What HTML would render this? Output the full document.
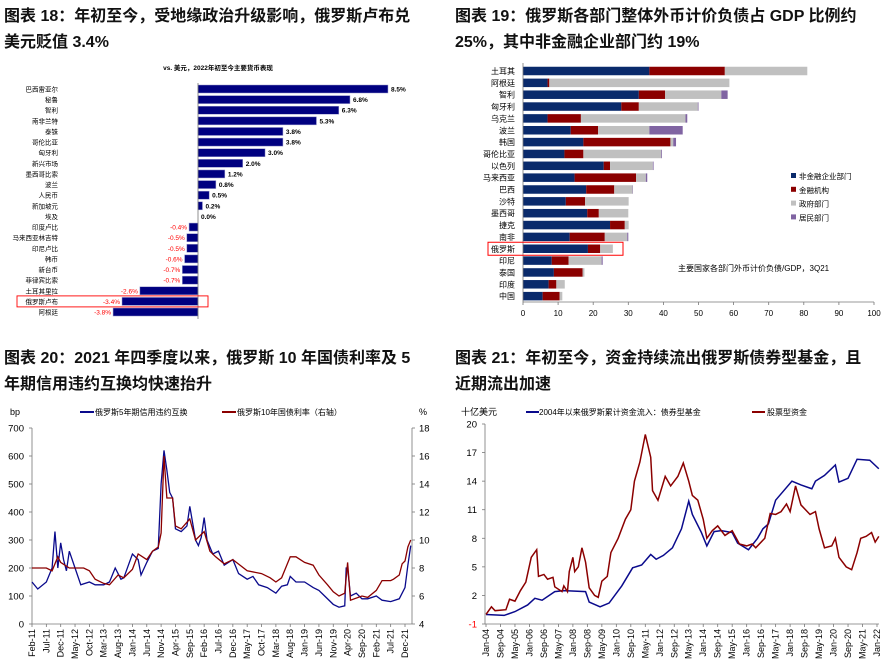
<!DOCTYPE html>
<html><head><meta charset="utf-8">
<style>
html,body{margin:0;padding:0;background:#fff;}
body{width:896px;height:669px;position:relative;overflow:hidden;font-family:"Liberation Sans","Noto Sans CJK SC",sans-serif;}
.t{position:absolute;font-weight:bold;font-size:16px;color:#111;white-space:nowrap;line-height:26px;}
svg{position:absolute;left:0;top:0;}
svg text{font-family:"Liberation Sans","Noto Sans CJK SC",sans-serif;}
</style></head><body>
<div class="t" style="left:4px;top:4px;">图表 18：年初至今，受地缘政治升级影响，俄罗斯卢布兑<br>美元贬值 3.4%</div>
<div class="t" style="left:455px;top:4px;">图表 19：俄罗斯各部门整体外币计价负债占 GDP 比例约<br>25%，其中非金融企业部门约 19%</div>
<div class="t" style="left:4px;top:346px;">图表 20：2021 年四季度以来，俄罗斯 10 年国债利率及 5<br>年期信用违约互换均快速抬升</div>
<div class="t" style="left:455px;top:346px;">图表 21：年初至今，资金持续流出俄罗斯债券型基金，且<br>近期流出加速</div>
<svg id="s" width="896" height="669" xmlns="http://www.w3.org/2000/svg"></svg>
<script>
// ---- Chart 18 data
const curNames=["巴西雷亚尔","秘鲁","智利","南非兰特","泰铢","哥伦比亚","匈牙利","新兴市场","墨西哥比索","波兰","人民币","新加坡元","埃及","印度卢比","马来西亚林吉特","印尼卢比","韩币","新台币","菲律宾比索","土耳其里拉","俄罗斯卢布","阿根廷"];
const curVals=[8.5,6.8,6.3,5.3,3.8,3.8,3.0,2.0,1.2,0.8,0.5,0.2,-0.0,-0.4,-0.5,-0.5,-0.6,-0.7,-0.7,-2.6,-3.4,-3.8];
// ---- Chart 19 data
const ctyNames=["土耳其","阿根廷","智利","匈牙利","乌克兰","波兰","韩国","哥伦比亚","以色列","马来西亚","巴西","沙特","墨西哥","捷克","南非","俄罗斯","印尼","泰国","印度","中国"];
const nonFin=[36,7,33,28,7,13.6,17.2,11.8,23,14.7,18,12.2,18.3,24.8,13.3,18.5,8.2,8.8,7.3,5.6];
const finInst=[21.5,0.5,7.5,5,9.5,7.8,24.8,5.4,1.8,17.5,8,5.5,3.3,4.2,10,3.5,4.8,8.2,2.2,4.8];
const govt=[23.5,51.3,16,16.8,29.8,14.6,0.8,22.2,12.2,2.8,5.2,12.4,8.4,1.1,6.4,3.6,9.4,0.5,2.4,0.8];
const house=[0,0,1.8,0.2,0.5,9.5,0.8,0.2,0.2,0.4,0.1,0,0,0,0.3,0,0.3,0,0,0];
const xTicks19=[0,10,20,30,40,50,60,70,80,90,100];
// ---- Chart 20 data (month index from Feb-11)
const dateLabels20=["Feb-11","Jul-11","Dec-11","May-12","Oct-12","Mar-13","Aug-13","Jan-14","Jun-14","Nov-14","Apr-15","Sep-15","Feb-16","Jul-16","Dec-16","May-17","Oct-17","Mar-18","Aug-18","Jan-19","Jun-19","Nov-19","Apr-20","Sep-20","Feb-21","Jul-21","Dec-21"];
const cdsMonths=[0,2,5,7,8,9,10,11,12,13,15,17,20,22,25,27,29,30,31,32,35,37,38,40,42,44,45,46,47,48,49,50,52,54,55,57,58,59,60,61,63,65,67,70,72,75,77,79,82,85,87,89,90,92,95,98,100,102,105,107,109,109.5,110,111,113,115,117,120,122,125,128,130,131,132];
const cdsVals=[150,125,150,200,330,200,290,230,190,260,200,140,150,140,140,150,200,180,160,165,250,230,175,220,260,270,500,620,550,470,450,340,330,350,420,300,280,310,380,300,250,260,210,230,180,160,170,140,130,110,135,140,170,150,150,130,120,100,70,60,65,200,200,100,110,90,90,100,85,80,90,130,210,280];
const ylMonths=[0,5,7,9,10,13,18,20,22,25,27,30,32,35,37,40,42,44,45,46,47,49,50,52,55,57,60,62,64,67,70,75,80,83,85,87,90,92,95,98,100,103,105,107,109,110,111,115,117,120,122,125,126,128,129,130,131,132];
const ylVals=[8.0,8.0,7.8,8.8,8.4,8.0,8.0,7.8,7.2,6.9,6.8,7.5,7.3,7.9,9.0,8.6,9.2,9.5,10.5,16,13,13,11,10.8,11.5,10,10.6,9.2,8.8,8.3,8.6,7.8,7.6,7.3,7.0,7.3,8.8,8.8,8.4,8.2,7.5,6.8,6.3,6.0,6.2,8.4,5.7,6.0,5.9,6.4,7.1,7.1,7.2,7.5,8.3,8.5,9.5,10];
const leftTicks20=[0,100,200,300,400,500,600,700];
const rightTicks20=[4,6,8,10,12,14,16,18];
// ---- Chart 21 data (month index from Jan-04)
const dateLabels21=["Jan-04","Sep-04","May-05","Jan-06","Sep-06","May-07","Jan-08","Sep-08","May-09","Jan-10","Sep-10","May-11","Jan-12","Sep-12","May-13","Jan-14","Sep-14","May-15","Jan-16","Sep-16","May-17","Jan-18","Sep-18","May-19","Jan-20","Sep-20","May-21","Jan-22"];
const bondMonths=[0,10,16,23,27,31,38,43,55,57,63,68,75,81,86,91,94,98,103,108,112,114,119,122,126,130,136,139,145,150,153,156,160,169,174,180,182,187,193,195,200,205,212,217];
const bondVals=[0,-0.1,0.3,1.0,1.7,1.5,2.4,2.5,2.4,1.3,0.8,1.2,3.0,4.9,5.2,6.3,5.8,6.2,7.0,9.0,11.9,10.5,8.6,7.2,8.7,8.8,8.6,7.5,6.8,8.0,9.0,9.5,12,14,13.6,13.2,14,14.6,15.7,13.9,14.3,16.3,16.2,15.3];
const eqMonths=[0,3,5,11,13,16,19,22,25,28,29,32,34,37,38,42,43,45,46,48,49,51,53,55,57,60,62,64,67,69,73,77,80,82,85,88,91,92,95,99,102,106,109,112,114,117,120,122,125,128,132,136,140,144,147,149,154,157,160,163,166,168,171,174,179,182,184,187,191,193,195,199,202,205,207,210,213,215,217];
const eqVals=[0,0.8,0.4,0.5,1.6,1.4,2.5,3.4,6.0,6.8,4.0,4.2,3.7,3.9,2.9,2.4,3.0,2.4,4.5,6.0,4.5,5.0,7.0,5.5,2.8,2.0,1.8,3.5,4.0,6.5,8.0,10.0,11.0,14.0,16.0,18.9,16.5,13.0,12.0,14.5,13.5,14.5,15.9,14.0,12.5,12.0,10.0,8.0,8.8,9.3,8.3,8.8,7.4,7.2,7.4,7.0,8.0,10.6,10.5,10.8,11.6,10.8,13.5,11.5,10.5,10.8,9.0,7.0,7.2,8.0,6.0,5.0,4.7,6.5,8.0,8.2,8.6,7.6,8.2];
const yTicks21=[20,17,14,11,8,5,2,-1];

const S=document.getElementById('s');
const NS='http://www.w3.org/2000/svg';
function mk(tag,attrs,parent){const e=document.createElementNS(NS,tag);for(const k in attrs)e.setAttribute(k,attrs[k]);(parent||S).appendChild(e);return e;}
function txt(x,y,s,size,fill,anchor,extra){const e=mk('text',Object.assign({x:x,y:y,'font-size':size,fill:fill||'#000','text-anchor':anchor||'start'},extra||{}));e.textContent=s;return e;}

// ===== Chart 18 =====
(function(){
 const g=mk('g',{});
 
 
 const x0=198,k=22.35,y0=89,dy=10.62,bh=8;
 const xs=v=>x0+v*k, ys=i=>y0+i*dy;
 const t=txt(218,70,'vs. 美元，2022年初至今主要货币表现',6.5,'#000','middle',{'font-weight':'bold'});g.appendChild(t);
 
 
 curVals.forEach((v,i)=>{
  const a=xs(Math.min(0,v)),b=xs(Math.max(0,v));
  const r=mk('rect',{x:a,y:ys(i)-bh/2,width:Math.max(b-a,0),height:bh,fill:'#000080',stroke:'#9999cc','stroke-width':0.5},g);
  
  
  const lab=txt(58,ys(i)+2.5,curNames[i],6.5,'#000','end');g.appendChild(lab);
  
  
  const s=v.toFixed(1)+'%';
  const vl = v>=0 ? txt(b+3,ys(i)+2.5,s,6.5,'#000','start',{'font-weight':'bold'}) : txt(a-2,ys(i)+2.5,(v===0?'-0.0%':s),6.5,'#ff0000','end');
  g.appendChild(vl);
  
  
 });
 mk('line',{x1:x0,y1:ys(0)-6,x2:x0,y2:ys(21)+7,stroke:'#777','stroke-width':0.8},g);
 const rb=mk('rect',{x:17,y:ys(20)-5.5,width:191,height:11,fill:'none',stroke:'#ff0000','stroke-width':0.9},g);
 
 
})();

// ===== Chart 19 =====
(function(){
 const g=mk('g',{});
 
 
 const x0=523,k=3.51,y0=71,dy=11.85,bh=8.5;
 const xs=v=>x0+v*k, ys=i=>y0+i*dy;
 const cols=['#0a2a6b','#8b0000','#c0c0c0','#8064a2'];
 const series=[nonFin,finInst,govt,house];
 ctyNames.forEach((n,i)=>{
  let acc=0;
  series.forEach((sv,j)=>{
   const v=sv[i]; if(v<=0)return;
   const r=mk('rect',{x:xs(acc),y:ys(i)-bh/2,width:v*k,height:bh,fill:cols[j]},g);
   
   
   acc+=v;
  });
  const l=txt(515,ys(i)+3,n,8,'#000','end');g.appendChild(l);
  
  
 });
 mk('line',{x1:x0,y1:63,x2:x0,y2:302,stroke:'#777','stroke-width':0.8},g);
 mk('line',{x1:x0,y1:302,x2:xs(100),y2:302,stroke:'#777','stroke-width':0.8},g);
 xTicks19.forEach(v=>{
  mk('line',{x1:xs(v),y1:302,x2:xs(v),y2:305,stroke:'#777','stroke-width':0.8},g);
  const l=txt(xs(v),316,String(v),8,'#000','middle');g.appendChild(l);
  
  
 });
 const legN=['非金融企业部门','金融机构','政府部门','居民部门'];
 legN.forEach((n,j)=>{
  const y=176+j*13.8;
  const r=mk('rect',{x:791,y:y-3,width:5,height:5,fill:cols[j]},g);
  
  
  const l=txt(799,y+3,n,7.5,'#000');g.appendChild(l);
  
  
 });
 const note=txt(678,271,'主要国家各部门外币计价负债/GDP，3Q21',8,'#000');g.appendChild(note);
 
 
 const rb=mk('rect',{x:488,y:ys(15)-6.5,width:135,height:13,fill:'none',stroke:'#ff0000','stroke-width':1},g);
 
 
})();

// ===== Chart 20 =====
(function(){
 const g=mk('g',{});
 
 
 const L=32,R=412,T=428,B=624, mpx=(405-32)/130;
 const xs=m=>L+m*mpx, yl=v=>B-(v/700)*(B-T), yr=v=>B-((v-4)/14)*(B-T);
 mk('line',{x1:L,y1:T,x2:L,y2:B,stroke:'#777','stroke-width':0.8},g);
 mk('line',{x1:R,y1:T,x2:R,y2:B,stroke:'#777','stroke-width':0.8},g);
 mk('line',{x1:L,y1:B,x2:R,y2:B,stroke:'#777','stroke-width':0.8},g);
 leftTicks20.forEach(v=>{
  mk('line',{x1:L-3,y1:yl(v),x2:L,y2:yl(v),stroke:'#777','stroke-width':0.8},g);
  const l=txt(24,yl(v)+3.5,String(v),9.5,'#000','end');g.appendChild(l);
  
  
 });
 rightTicks20.forEach(v=>{
  mk('line',{x1:R,y1:yr(v),x2:R+3,y2:yr(v),stroke:'#777','stroke-width':0.8},g);
  const l=txt(419,yr(v)+3.5,String(v),9.5,'#000','start');g.appendChild(l);
  
  
 });
 dateLabels20.forEach((s,i)=>{
  const x=xs(i*5);
  mk('line',{x1:x,y1:B,x2:x,y2:B+3,stroke:'#777','stroke-width':0.8},g);
  const l=txt(x+3,B+5,s,9,'#000','end',{transform:'rotate(-90 '+(x+3)+' '+(B+5)+')'});g.appendChild(l);
  
  
 });
 const p1=mk('polyline',{points:cdsMonths.map((m,i)=>xs(m)+','+yl(cdsVals[i])).join(' '),fill:'none',stroke:'#0a0a8c','stroke-width':1.3},g);
 
 
 const p2=mk('polyline',{points:ylMonths.map((m,i)=>xs(m)+','+yr(ylVals[i])).join(' '),fill:'none',stroke:'#8b0000','stroke-width':1.3},g);
 
 
 const u1=txt(10,415,'bp',9,'#000');g.appendChild(u1);
 
 
 const u2=txt(419,415,'%',9,'#000');g.appendChild(u2);
 
 
 mk('line',{x1:80,y1:412,x2:94,y2:412,stroke:'#0a0a8c','stroke-width':2},g);
 const lg1=txt(95,415,'俄罗斯5年期信用违约互换',8,'#000');g.appendChild(lg1);
 
 
 mk('line',{x1:222,y1:412,x2:236,y2:412,stroke:'#8b0000','stroke-width':2},g);
 const lg2=txt(237,415,'俄罗斯10年国债利率（右轴）',8,'#000');g.appendChild(lg2);
 
 
})();

// ===== Chart 21 =====
(function(){
 const g=mk('g',{});
 
 
 const L=485,R=879,T=424,B=624, x0=486, mpx=(877-486)/216;
 const xs=m=>x0+m*mpx, ys=v=>B-((v+1)/21)*(B-T);
 mk('line',{x1:L,y1:T,x2:L,y2:B,stroke:'#777','stroke-width':0.8},g);
 mk('line',{x1:L,y1:B,x2:R,y2:B,stroke:'#777','stroke-width':0.8},g);
 yTicks21.forEach(v=>{
  mk('line',{x1:L-3,y1:ys(v),x2:L,y2:ys(v),stroke:'#777','stroke-width':0.8},g);
  const l=txt(477,ys(v)+3.5,String(v),9.5,v<0?'#ff0000':'#000','end');g.appendChild(l);
  
  
 });
 dateLabels21.forEach((s,i)=>{
  const x=xs(i*8);
  mk('line',{x1:x,y1:B,x2:x,y2:B+3,stroke:'#777','stroke-width':0.8},g);
  const l=txt(x+3,B+5,s,9,'#000','end',{transform:'rotate(-90 '+(x+3)+' '+(B+5)+')'});g.appendChild(l);
  
  
 });
 const p1=mk('polyline',{points:bondMonths.map((m,i)=>xs(m)+','+ys(bondVals[i])).join(' '),fill:'none',stroke:'#0a0a8c','stroke-width':1.5},g);
 
 
 const p2=mk('polyline',{points:eqMonths.map((m,i)=>xs(m)+','+ys(eqVals[i])).join(' '),fill:'none',stroke:'#8b0000','stroke-width':1.5},g);
 
 
 const u=txt(461,415,'十亿美元',9,'#000');g.appendChild(u);
 
 
 mk('line',{x1:526,y1:412,x2:539,y2:412,stroke:'#0a0a8c','stroke-width':2},g);
 const lg1=txt(539,415,'2004年以来俄罗斯累计资金流入：债券型基金',8,'#000');g.appendChild(lg1);
 
 
 mk('line',{x1:752,y1:412,x2:765,y2:412,stroke:'#8b0000','stroke-width':2},g);
 const lg2=txt(767,415,'股票型资金',8,'#000');g.appendChild(lg2);
 
 
})();
</script>
</body></html>
